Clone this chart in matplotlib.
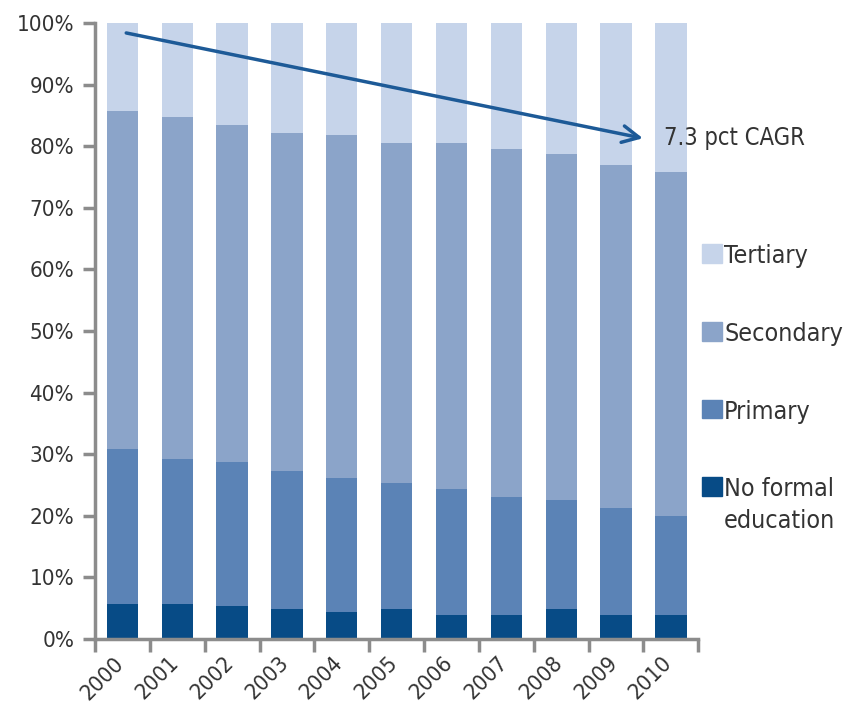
import numpy as np
import matplotlib.pyplot as plt
import matplotlib.transforms as mtrans
from matplotlib.patches import Patch

plt.rcParams['font.family'] = ['DejaVu Sans']
plt.rcParams['font.stretch'] = 'condensed'

anos = ['2000', '2001', '2002', '2003', '2004', '2005', '2006', '2007', '2008', '2009', '2010']
sem_educacao = [5.7, 5.7, 5.4, 4.9, 4.4, 4.9, 3.9, 3.9, 4.9, 3.9, 3.9]
primario_topo = [30.8, 29.2, 28.8, 27.2, 26.2, 25.4, 24.3, 23.1, 22.6, 21.3, 20.0]
secundario_topo = [85.8, 84.7, 83.4, 82.2, 81.8, 80.5, 80.5, 79.6, 78.7, 76.9, 75.9]
total = [100] * 11

cores = {'Tertiary': '#c6d4ea', 'Secondary': '#8ba4c9',
         'Primary': '#5b83b6', 'No formal\neducation': '#074b86'}
cinza = '#8c8c8c'

x = np.arange(len(anos))
sem = np.array(sem_educacao)
pri = np.array(primario_topo) - sem
sec = np.array(secundario_topo) - np.array(primario_topo)
ter = np.array(total) - np.array(secundario_topo)

fig = plt.figure(figsize=(8.45, 7.22), dpi=100)
ax = fig.add_axes([0.1124, 0.115, 0.714, 0.853])

w = 0.57
ax.bar(x, sem, w, color=cores['No formal\neducation'])
ax.bar(x, pri, w, bottom=sem, color=cores['Primary'])
ax.bar(x, sec, w, bottom=sem + pri, color=cores['Secondary'])
ax.bar(x, ter, w, bottom=sem + pri + sec, color=cores['Tertiary'])

ax.set_xlim(-0.5, len(anos) - 0.5)
ax.set_ylim(0, 100)

for s in ['top', 'right']:
    ax.spines[s].set_visible(False)
for s in ['left', 'bottom']:
    ax.spines[s].set_color(cinza)
    ax.spines[s].set_linewidth(2.5)

ax.set_yticks(np.arange(0, 101, 10))
ax.set_yticklabels([f'{v}%' for v in range(0, 101, 10)])
ax.tick_params(axis='y', length=9, width=2.5, color=cinza, labelsize=16,
               labelcolor='#333333', pad=6)

ax.set_xticks(np.arange(-0.5, len(anos), 1))
ax.set_xticklabels([])
ax.tick_params(axis='x', which='major', length=9, width=2.5, color=cinza)
ax.set_xticks(x, minor=True)
ax.set_xticklabels(anos, minor=True, rotation=45, ha='right',
                   rotation_mode='anchor', fontsize=16, color='#333333')
ax.tick_params(axis='x', which='minor', length=0, pad=10)
desloc = mtrans.ScaledTranslation(-9 / 100, 0, fig.dpi_scale_trans)
for lbl in ax.get_xticklabels(minor=True):
    lbl.set_transform(lbl.get_transform() + desloc)

# seta de tendência
ax.annotate('', xy=(9.49, 81.3), xytext=(0.07, 98.4),
            arrowprops=dict(arrowstyle='->', color='#1d5a97', lw=2.5,
                            mutation_scale=30, shrinkA=0, shrinkB=0))
ax.text(9.88, 81.3, '7.3 pct CAGR', fontsize=17, color='#333333',
        va='center', ha='left')

handles = [Patch(color=c) for c in cores.values()]
leg = fig.legend(handles, list(cores.keys()), loc='upper left',
                 bbox_to_anchor=(0.831, 0.662), frameon=False, fontsize=18,
                 labelspacing=2.15, handlelength=0.78, handleheight=0.78,
                 handletextpad=0.1, borderpad=0, borderaxespad=0,
                 labelcolor='#333333')
leg.get_texts()[3].set_linespacing(1.4)
for coluna in leg._legend_handle_box.get_children():
    for linha in coluna.get_children():
        linha.align = 'top'

fig.savefig('out.png', dpi=100)
